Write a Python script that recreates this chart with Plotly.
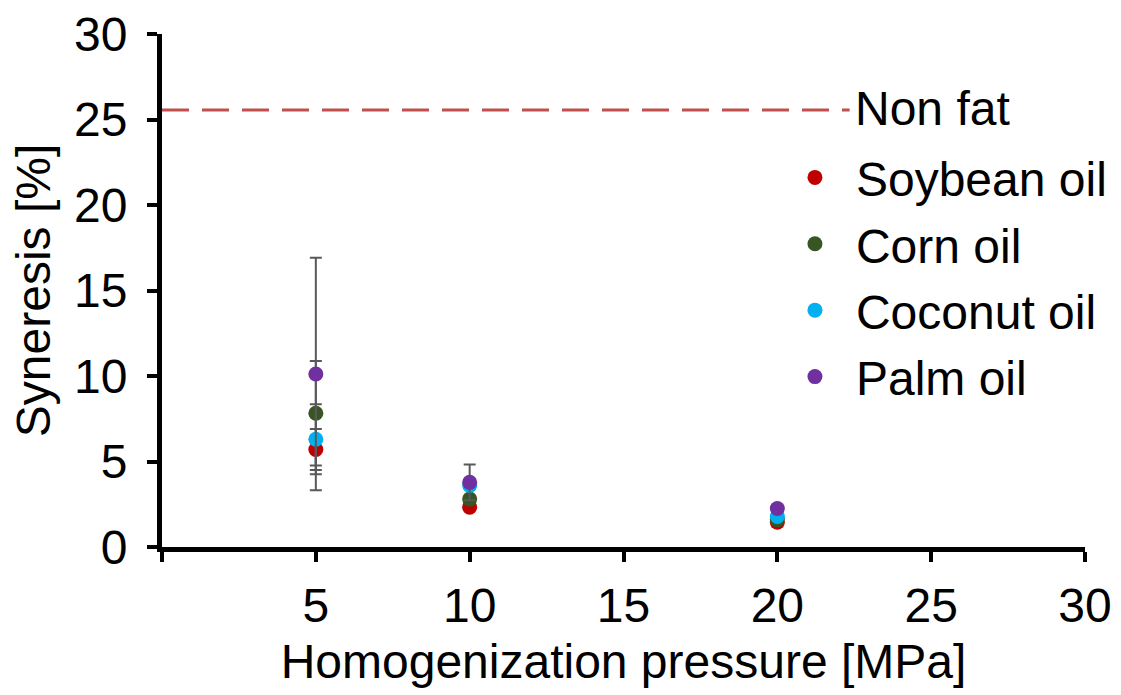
import plotly.graph_objects as go

pressure = [5, 10, 20]
soybean = [5.7, 2.33, 1.45]
soybean_err = [1.2, 0.2, 0.25]
corn = [7.82, 2.8, 1.6]
corn_err = [3.05, 0.2, 0.2]
coconut = [6.3, 3.6, 1.78]
coconut_err = [2.05, 0.2, 0.2]
palm = [10.12, 3.78, 2.25]
palm_err = [6.8, 1.05, 0.2]
nonfat_x = [0, 22.35]
nonfat_y = [25.55, 25.55]
nonfat_label = "Non fat"

FONT = "Arial, Liberation Sans, sans-serif"
ERRC = "#595959"
FS = 48

fig = go.Figure()
fig.add_trace(go.Scatter(x=nonfat_x, y=nonfat_y, mode="lines", name=nonfat_label,
                         line=dict(color="#C0504D", width=3, dash="27px,13px"),
                         showlegend=False))
series = [("Soybean oil", soybean, soybean_err, "#C00000"),
          ("Corn oil", corn, corn_err, "#375623"),
          ("Coconut oil", coconut, coconut_err, "#00B0F0"),
          ("Palm oil", palm, palm_err, "#7030A0")]
for i, (name, ys, es, col) in enumerate(series):
    fig.add_trace(go.Scatter(x=pressure, y=ys, mode="markers", name=name,
                             marker=dict(color=col, size=15),
                             error_y=dict(type="data", array=es, visible=True,
                                          color=ERRC, thickness=2, width=6),
                             legendgroup="g%d" % i))

fig.add_annotation(x=nonfat_x[1] + 0.12, y=nonfat_y[1], xref="x", yref="y",
                   text=nonfat_label, showarrow=False, xanchor="left",
                   yanchor="middle", yshift=2,
                   font=dict(size=FS, family=FONT, color="black"))

fig.update_layout(
    width=1121, height=695,
    margin=dict(l=162, r=36, t=34, b=148, autoexpand=False),
    paper_bgcolor="white", plot_bgcolor="white",
    font=dict(family=FONT, size=FS, color="black"),
    showlegend=True,
    legend=dict(x=0.663, y=0.794, xanchor="left", yanchor="top",
                bgcolor="rgba(0,0,0,0)", font=dict(size=FS, family=FONT),
                tracegroupgap=1, itemwidth=72),
    xaxis=dict(range=[0, 30], tickvals=[0, 5, 10, 15, 20, 25, 30],
               ticktext=["", "5", "10", "15", "20", "25", "30"],
               showline=True, linecolor="black", linewidth=5,
               ticks="outside", ticklen=10, tickwidth=4, tickcolor="black",
               showgrid=False, zeroline=False, ticklabelstandoff=2,
               automargin=False,
               title=dict(text="Homogenization pressure [MPa]", standoff=15,
                          font=dict(size=FS))),
    yaxis=dict(range=[0, 30], tickvals=[0, 5, 10, 15, 20, 25, 30],
               showline=True, linecolor="black", linewidth=5,
               ticks="outside", ticklen=10, tickwidth=4, tickcolor="black",
               showgrid=False, zeroline=False, ticklabelstandoff=10,
               automargin=False,
               title=dict(text="Syneresis [%]", standoff=10, font=dict(size=FS))),
)

fig.write_html("out.html")
